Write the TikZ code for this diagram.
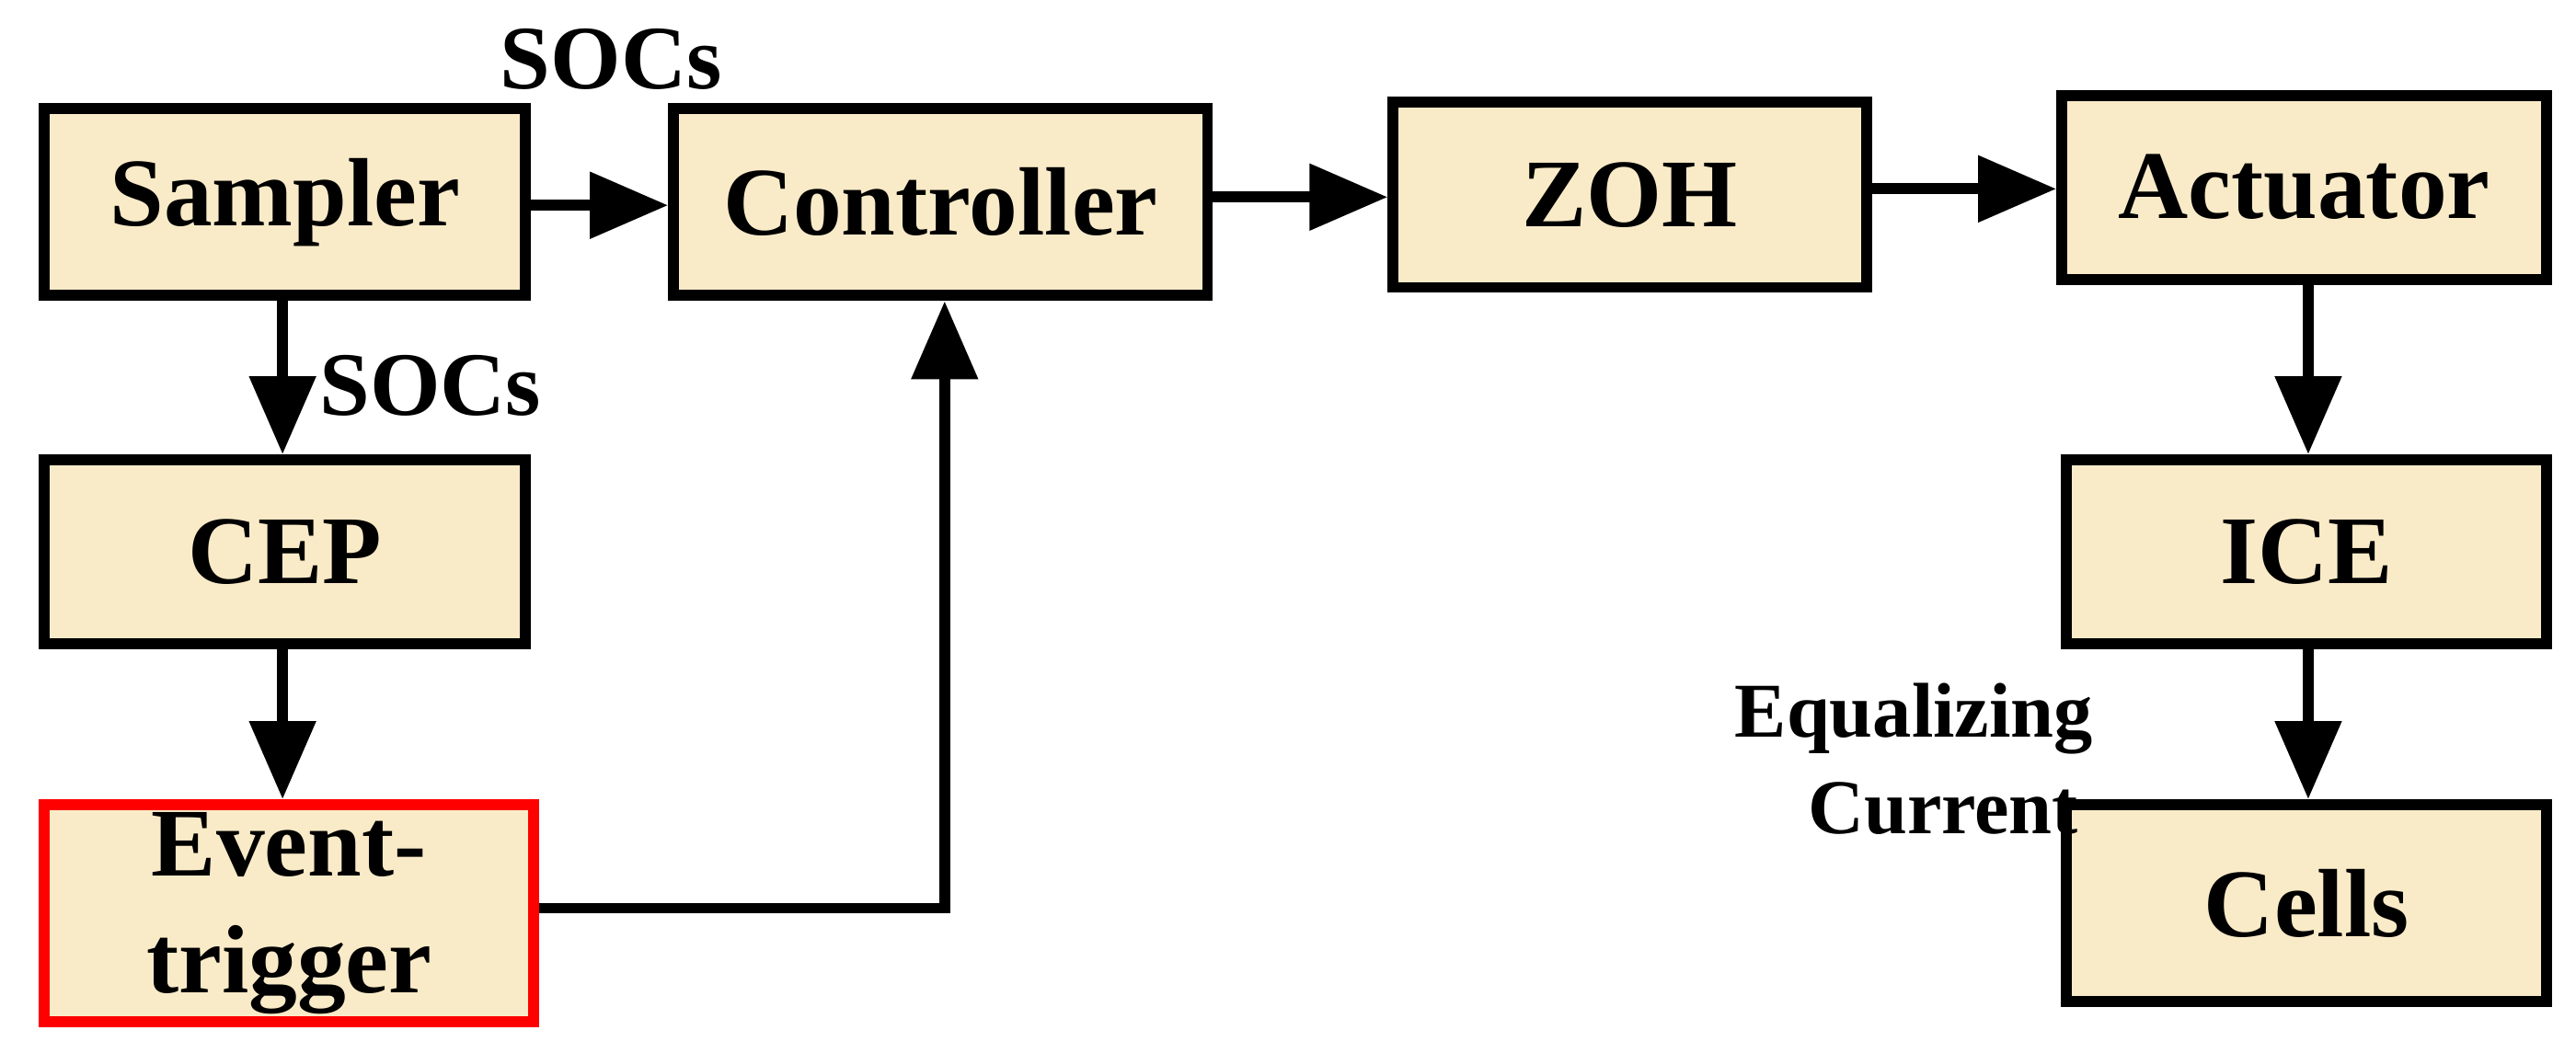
\documentclass[tikz,border=0pt]{standalone}
\usepackage{fontspec}
\setmainfont{Liberation Serif}
\usetikzlibrary{arrows.meta}
\definecolor{boxfill}{HTML}{FAEBC8}
\begin{document}
\begin{tikzpicture}[x=0.017857cm,y=-0.017857cm,
  blk/.style={draw=black,line width=3.4pt,fill=boxfill,inner sep=0pt,font=\bfseries\fontsize{30}{32}\selectfont,align=center},
  arr/.style={line width=3.4pt,-{Triangle[length=0.85cm,width=0.7cm]}},
  lbl/.style={font=\bfseries\fontsize{28}{30}\selectfont}]
\useasboundingbox (0,0) rectangle (1568,641);
\node[blk,minimum width=293*0.017857cm,minimum height=114*0.017857cm] (samp) at (173.5,123) {Sampler};
\node[blk,minimum width=325*0.017857cm,minimum height=114*0.017857cm] (ctrl) at (572.5,123) {Controller};
\node[blk,minimum width=288*0.017857cm,minimum height=113*0.017857cm] (zoh) at (992,118.5) {ZOH};
\node[blk,minimum width=295*0.017857cm,minimum height=112*0.017857cm] (act) at (1402.5,114) {Actuator};
\node[blk,minimum width=293*0.017857cm,minimum height=112*0.017857cm] (cep) at (173.5,336) {CEP};
\node[blk,draw=red,minimum width=298*0.017857cm,minimum height=132*0.017857cm,font=\bfseries\fontsize{30}{36}\selectfont] (evt) at (176,556) {Event-\\trigger};
\node[blk,minimum width=292*0.017857cm,minimum height=112*0.017857cm] (ice) at (1404,336) {ICE};
\node[blk,minimum width=292*0.017857cm,minimum height=120*0.017857cm] (cells) at (1404,550) {Cells};
\draw[arr] (samp.east|-0,125) -- (ctrl.west|-0,125);
\draw[arr] (ctrl.east|-0,120) -- (zoh.west|-0,120);
\draw[arr] (zoh.east|-0,115) -- (act.west|-0,115);
\draw[arr] (samp.south-|172,0) -- (cep.north-|172,0);
\draw[arr] (cep.south-|172,0) -- (evt.north-|172,0);
\draw[arr] (act.south-|1405,0) -- (ice.north-|1405,0);
\draw[arr] (ice.south-|1405,0) -- (cells.north-|1405,0);
\coordinate (bend) at (575,553);
\draw[arr] (evt.east|-bend) -- (bend) -- (ctrl.south-|bend);
\node[lbl] (s1) at (372,36) {SOCs};
\node[lbl] (s2) at (262,235) {SOCs};
\node[lbl,align=center,font=\bfseries\fontsize{24}{30}\selectfont] (eq) at (1165,462) {Equalizing\\\ \ \ Current};
\end{tikzpicture}
\end{document}
